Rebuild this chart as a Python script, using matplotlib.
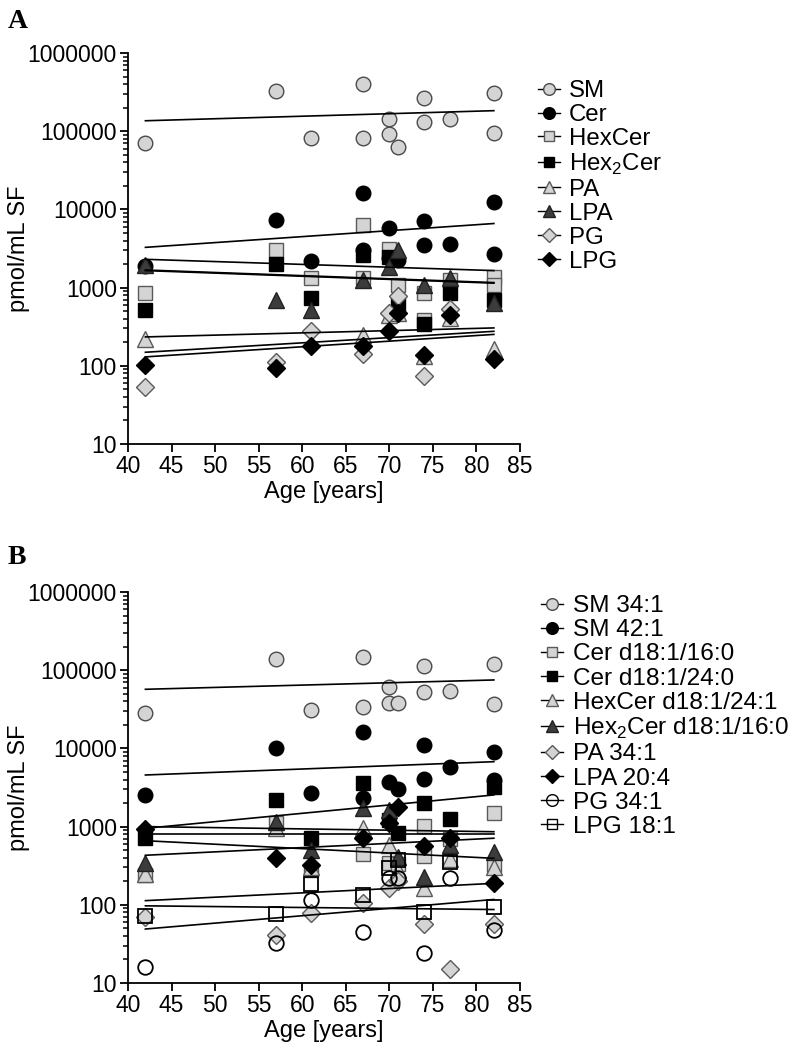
import matplotlib
matplotlib.use("Agg")
import matplotlib.pyplot as plt
from matplotlib.lines import Line2D
from matplotlib.ticker import LogLocator, NullFormatter

plt.rcParams['font.family'] = ['Liberation Sans', 'DejaVu Sans']
plt.rcParams['mathtext.fontset'] = 'custom'
plt.rcParams['mathtext.rm'] = 'Liberation Sans'

# ---------------- panel A data ----------------
a_names = ['SM', 'Cer', 'HexCer', 'Hex$_{\\mathregular{2}}$Cer', 'PA', 'LPA', 'PG', 'LPG']

sm_age = [42, 57, 61, 67, 67, 70, 70, 71, 74, 74, 77, 82, 82]
sm = [70000, 329000, 81000, 400000, 83000, 143000, 92000, 63000, 262000, 132000, 143000, 304000, 94000]
cer_age = [42, 57, 61, 67, 67, 70, 70, 71, 74, 74, 77, 82, 82]
cer = [1900, 7400, 2200, 16200, 3000, 5800, 2400, 2250, 7150, 3500, 3600, 12600, 2700]
hexcer_age = [42, 57, 61, 67, 67, 70, 71, 74, 74, 77, 82, 82]
hexcer = [850, 3030, 1320, 6300, 1320, 3150, 1090, 850, 390, 1250, 1360, 1090]
hex2cer_age = [42, 57, 61, 67, 70, 71, 74, 77, 82]
hex2cer = [520, 2000, 735, 2600, 2440, 620, 340, 850, 700]
pa_age = [42, 67, 70, 71, 74, 77, 82]
pa = [217, 250, 450, 480, 133, 410, 165]
lpa_age = [42, 57, 61, 67, 70, 71, 74, 77, 82]
lpa = [1950, 700, 510, 1250, 1860, 3050, 1090, 1320, 635]
pg_age = [42, 57, 61, 67, 70, 71, 74, 77]
pg = [53, 111, 282, 140, 480, 770, 75, 530]
lpg_age = [42, 57, 61, 67, 70, 71, 74, 77, 82]
lpg = [101, 95, 178, 178, 282, 473, 136, 450, 123]

a_ages = [sm_age, cer_age, hexcer_age, hex2cer_age, pa_age, lpa_age, pg_age, lpg_age]
a_vals = [sm, cer, hexcer, hex2cer, pa, lpa, pg, lpg]
# regression lines, value at age 42 and at age 82
a_fit_start = [136000, 3270, 2300, 1680, 234, 1650, 149, 130]
a_fit_end = [183000, 6600, 1650, 1160, 305, 1140, 276, 252]

# ---------------- panel B data ----------------
b_names = ['SM 34:1', 'SM 42:1', 'Cer d18:1/16:0', 'Cer d18:1/24:0', 'HexCer d18:1/24:1',
           'Hex$_{\\mathregular{2}}$Cer d18:1/16:0', 'PA 34:1', 'LPA 20:4', 'PG 34:1', 'LPG 18:1']

ages9 = [42, 57, 61, 67, 70, 71, 74, 77, 82]
sm34_age = [42, 57, 61, 67, 67, 70, 70, 71, 74, 74, 77, 82, 82]
sm34 = [28600, 138000, 31300, 149000, 34200, 60400, 38400, 38400, 113000, 52600, 54700, 119000, 36600]
sm42_age = [42, 57, 61, 67, 67, 70, 71, 74, 74, 77, 82, 82]
sm42 = [2540, 10000, 2720, 16400, 2300, 3760, 3030, 11000, 4030, 5700, 9100, 3950]
cer16_age = [42, 57, 61, 67, 70, 71, 74, 74, 77, 82, 82]
cer16 = [240, 1120, 279, 447, 340, 330, 1020, 420, 700, 1510, 323]
cer24 = [710, 2190, 710, 3580, 1210, 820, 2020, 1240, 3200]
hexcer241 = [245, 950, 300, 950, 580, 280, 163, 380, 307]
hex2cer160 = [345, 1160, 500, 1710, 1630, 405, 225, 580, 478]
pa341 = [70, 41, 78, 106, 163, 200, 57, 15, 57]
lpa204 = [920, 393, 323, 710, 1120, 1800, 565, 710, 188]
pg341 = [16, 32, 115, 45, 218, 218, 24, 218, 47]
lpg181 = [72, 76, 183, 133, 293, 374, 82, 355, 95]

b_ages = [sm34_age, sm42_age, cer16_age, ages9, ages9, ages9, ages9, ages9, ages9, ages9]
b_vals = [sm34, sm42, cer16, cer24, hexcer241, hex2cer160, pa341, lpa204, pg341, lpg181]
b_fit_start = [57000, 4570, 430, 950, 660, 800, 97, 1000, 49, 113]
b_fit_end = [75000, 6760, 710, 2540, 393, 800, 87, 860, 117, 188]

fit_x = [42, 82]

# marker styles: (marker, face, edge, size)
LG = '#d4d4d4'
style_a = [('o', LG, '#4a4a4a', 10.5), ('o', 'black', 'black', 10.5),
           ('s', LG, '#5a5a5a', 9.5), ('s', 'black', 'black', 9.5),
           ('^', LG, '#5a5a5a', 11), ('^', '#3c3c3c', '#222222', 11),
           ('D', LG, '#5a5a5a', 9), ('D', 'black', 'black', 9)]
style_b = style_a + [('o', 'none', 'black', 10.5), ('s', 'none', 'black', 9.5)]

fig = plt.figure(figsize=(7.96, 10.56), dpi=100)
axA = fig.add_axes([128 / 796, 1 - 444 / 1056, 392 / 796, 391 / 1056])
axB = fig.add_axes([128 / 796, 1 - 983 / 1056, 392 / 796, 391 / 1056])


def draw(ax, names, ages, vals, fs, fe, styles, leg_anchor, leg_size, leg_space):
    for i in range(len(names)):
        m, fc, ec, ms = styles[i]
        ax.plot(ages[i], vals[i], linestyle='none', marker=m, markersize=ms,
                markerfacecolor=fc, markeredgecolor=ec,
                markeredgewidth=1.0 if fc != 'none' else 1.3, zorder=3 + i * 0.01, clip_on=False)
    for i in range(len(names)):
        ax.plot(fit_x, [fs[i], fe[i]], color='black', lw=1.2, zorder=5)

    ax.set_yscale('log')
    ax.set_ylim(10, 1e6)
    ax.set_xlim(40, 85)
    ax.set_xticks(range(40, 90, 5))
    ax.set_yticks([10, 100, 1000, 10000, 100000, 1000000])
    ax.set_yticklabels(['10', '100', '1000', '10000', '100000', '1000000'])
    ax.yaxis.set_minor_locator(LogLocator(base=10, subs=range(2, 10)))
    ax.yaxis.set_minor_formatter(NullFormatter())
    for s in ['top', 'right']:
        ax.spines[s].set_visible(False)
    for s in ['left', 'bottom']:
        ax.spines[s].set_linewidth(1.3)
    ax.tick_params(axis='both', which='major', length=6, width=1.3, labelsize=16.5, pad=2)
    ax.tick_params(axis='y', which='minor', length=3.5, width=1.1)
    ax.set_xlabel('Age [years]', fontsize=17, labelpad=2)
    ax.set_ylabel('pmol/mL SF', fontsize=17, labelpad=-2)

    handles = []
    for i in range(len(names)):
        m, fc, ec, ms = styles[i]
        handles.append(Line2D([], [], color='black', lw=1.0, marker=m, markersize=ms * 0.8,
                              markerfacecolor=fc, markeredgecolor=ec, markeredgewidth=1.0))
    ax.legend(handles, names, loc='upper left', bbox_to_anchor=leg_anchor,
              bbox_transform=fig.transFigure, frameon=False, fontsize=leg_size,
              handlelength=0.9, handletextpad=0.4, labelspacing=leg_space,
              borderpad=0, borderaxespad=0)


draw(axA, a_names, a_ages, a_vals, a_fit_start, a_fit_end, style_a,
     (538 / 796, 1 - 80 / 1056), 17.3, 0.08)
draw(axB, b_names, b_ages, b_vals, b_fit_start, b_fit_end, style_b,
     (541 / 796, 1 - 595 / 1056), 17.6, 0.085)

fig.text(8 / 796, 1 - 22 / 1056, 'A', fontsize=20, fontweight='bold',
         family='Liberation Serif', va='center', ha='left')
fig.text(8 / 796, 1 - 557 / 1056, 'B', fontsize=20, fontweight='bold',
         family='Liberation Serif', va='center', ha='left')

fig.savefig('out.png', dpi=100)
